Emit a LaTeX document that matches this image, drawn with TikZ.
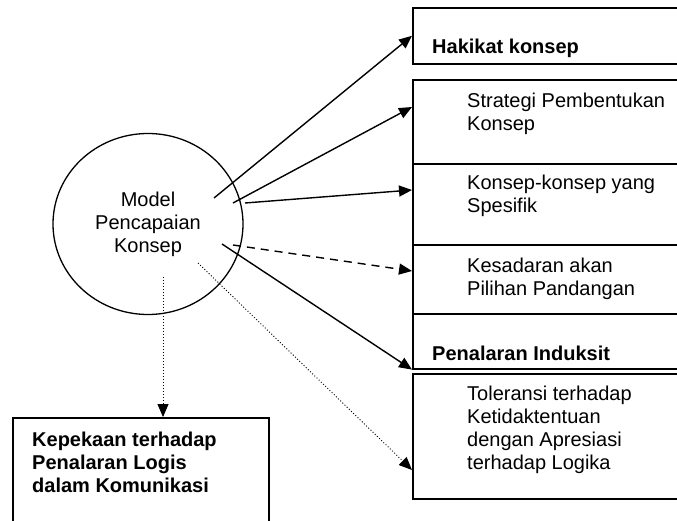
\documentclass[tikz,border=0pt]{standalone}
\usepackage{fontspec}
\setmainfont{Liberation Sans}
\usetikzlibrary{shapes.geometric, arrows.meta, positioning, calc}

\begin{document}
\begin{tikzpicture}[
  x=1pt, y=-1pt,
  font=\fontsize{20}{23}\selectfont,
  concept/.style={ellipse, draw, line width=1.3pt, minimum width=190pt, minimum height=181pt,
                  align=center, inner sep=0pt},
  sidebox/.style={rectangle, draw, line width=1.6pt, anchor=north west,
                  minimum width=268pt, inner sep=0pt},
  boxtxt/.style={anchor=west, align=left, inner sep=0pt},
  boldtxt/.style={boxtxt, font=\fontsize{20}{23}\selectfont\bfseries},
  arrow/.style={-{Triangle[length=13pt, width=11pt]}, line width=1.4pt},
  dasharrow/.style={arrow, dash pattern=on 8pt off 6pt},
  dotarrow/.style={-{Triangle[length=13pt, width=11pt]}, line width=0.9pt,
                   dash pattern=on 1pt off 2pt}
]
\useasboundingbox (0,0) rectangle (677,521);
\clip (0,0) rectangle (677,521);

\node[concept] (model) at (148,224) {Model\\Pencapaian\\Konsep};

% boxes on the right
\node[sidebox, minimum height=56pt]  (hakikat)   at (412,7)   {};
\node[sidebox, minimum height=84pt]  (strategi)  at (412,79)  {};
\node[sidebox, minimum height=81pt]  (spesifik)  at (412,163) {};
\node[sidebox, minimum height=69pt]  (kesadaran) at (412,244) {};
\node[sidebox, minimum height=55pt]  (induksi)   at (412,313) {};
\node[sidebox, minimum height=125pt] (toleransi) at (412,373) {};
\node[sidebox, minimum width=256pt, minimum height=110pt] (kepekaan) at (12,417) {};

\node[boldtxt] (hakikat-t)   at (432,48)  {Hakikat konsep};
\node[boxtxt]  (strategi-t)  at (467,114) {Strategi Pembentukan\\Konsep};
\node[boxtxt]  (spesifik-t)  at (467,196) {Konsep-konsep yang\\Spesifik};
\node[boxtxt]  (kesadaran-t) at (467,279) {Kesadaran akan\\Pilihan Pandangan};
\node[boldtxt] (induksi-t)   at (432,353) {Penalaran Induksit};
\node[boxtxt]  (toleransi-t) at (467,430) {Toleransi terhadap\\Ketidaktentuan\\dengan Apresiasi\\terhadap Logika};
\node[boldtxt] (kepekaan-t)  at (32,462)  {Kepekaan terhadap\\Penalaran Logis\\dalam Komunikasi};

% connectors
\draw[arrow] ($(model.center)+(66,-26)$) -- (hakikat.west);
\draw[arrow] ($(model.center)+(85,-21)$) -- ($(strategi.north west)+(0,28)$);
\draw[arrow] ($(model.center)+(97,-21)$) -- ($(spesifik.north west)+(0,27)$);
\draw[dasharrow] ($(model.center)+(85,21)$) -- ($(kesadaran.north west)+(0,27)$);
\draw[arrow] ($(model.center)+(74,20)$) -- (induksi.south west);
\draw[dotarrow] ($(model.center)+(50,39)$) -- ($(toleransi.north west)+(0,97)$);
\draw[dotarrow] ($(model.center)+(15,53)$) coordinate (down) -- (down |- kepekaan.north);
\end{tikzpicture}
\end{document}
